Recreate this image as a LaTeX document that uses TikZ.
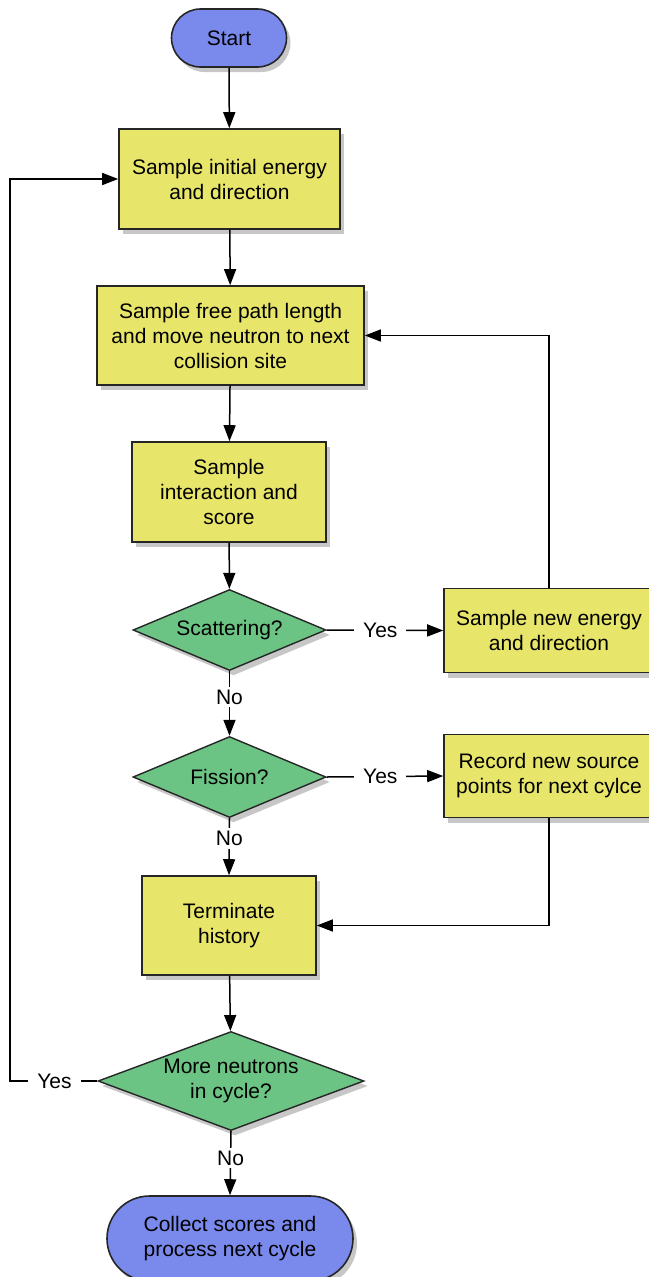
\documentclass[tikz,border=0pt]{standalone}
\usepackage{fontspec}
\setmainfont{Liberation Sans}
\usetikzlibrary{shapes.geometric,shapes.misc,shadows,arrows.meta}
\definecolor{boxyellow}{RGB}{232,230,106}
\definecolor{diagreen}{RGB}{108,196,132}
\definecolor{termblue}{RGB}{122,138,236}
\begin{document}
\begin{tikzpicture}[x=1pt,y=-1pt,
 font=\fontsize{21}{25}\selectfont,
 shadowed/.style={drop shadow={shadow xshift=4pt,shadow yshift=-5pt,opacity=0.22,fill=black}},
 procbox/.style={draw=black!85,line width=1.6pt,fill=boxyellow,align=center,inner sep=0pt,shadowed},
 decision/.style={diamond,draw=black!85,line width=1.4pt,fill=diagreen,align=center,inner sep=0pt,shadowed},
 terminal/.style={rounded rectangle,draw=black!85,line width=1.6pt,fill=termblue,align=center,inner sep=0pt,shadowed},
 flow/.style={line width=1.5pt,-{Triangle[length=16pt,width=12pt]}},
 answer/.style={fill=white,inner xsep=9pt,inner ysep=3pt}]
\useasboundingbox (0,0) rectangle (648,1277);

\node[terminal,minimum width=115pt,minimum height=58pt] (start) at (229,38) {Start};
\node[procbox,minimum width=221pt,minimum height=100pt] (init) at (229.5,179) {Sample initial energy\\and direction};
\node[procbox,minimum width=267pt,minimum height=99pt] (free) at (230.5,335.5) {Sample free path length\\and move neutron to next\\collision site};
\node[procbox,minimum width=194pt,minimum height=100pt] (inter) at (229,492) {Sample\\interaction and\\score};
\node[decision,shape aspect=2.38,minimum width=193pt,minimum height=81pt] (scat) at (229.5,630) {Scattering?};
\node[procbox,minimum width=210pt,minimum height=84pt] (sne) at (549,630.5) {Sample new energy\\and direction};
\node[decision,shape aspect=2.38,minimum width=193pt,minimum height=81pt] (fis) at (229.5,777) {Fission?};
\node[procbox,minimum width=210pt,minimum height=83pt] (rec) at (549,776) {Record new source\\points for next cylce};
\node[procbox,minimum width=174pt,minimum height=99pt] (term) at (229,925.5) {Terminate\\history};
\node[decision,shape aspect=2.69,minimum width=266pt,minimum height=99pt] (more) at (231,1081) {More neutrons\\in cycle?};
\node[terminal,minimum width=246pt,minimum height=85pt] (collect) at (230,1238.5) {Collect scores and\\process next cycle};
\coordinate (L) at (10,1081);

\draw[flow] (start) -- (init);
\draw[flow] (init) -- (free);
\draw[flow] (free) -- (inter);
\draw[flow] (inter) -- (scat);
\draw[flow] (scat.east) -- node[answer,pos=0.46]{Yes} (sne.west);
\draw[flow] (sne.north) |- (free.east);
\draw[flow] (scat.south) -- node[answer,pos=0.4]{No} (fis.north);
\draw[flow] (fis.east) -- node[answer,pos=0.46]{Yes} (rec.west);
\draw[flow] (fis.south) -- node[answer,pos=0.36]{No} (term.north);
\draw[flow] (rec.south) |- (term.east);
\draw[flow] (term) -- (more);
\draw[flow] (more.west) -- node[answer,pos=0.49]{Yes} (L) |- (init.west);
\draw[flow] (more.south) -- node[answer,pos=0.42]{No} (collect.north);
\end{tikzpicture}
\end{document}
